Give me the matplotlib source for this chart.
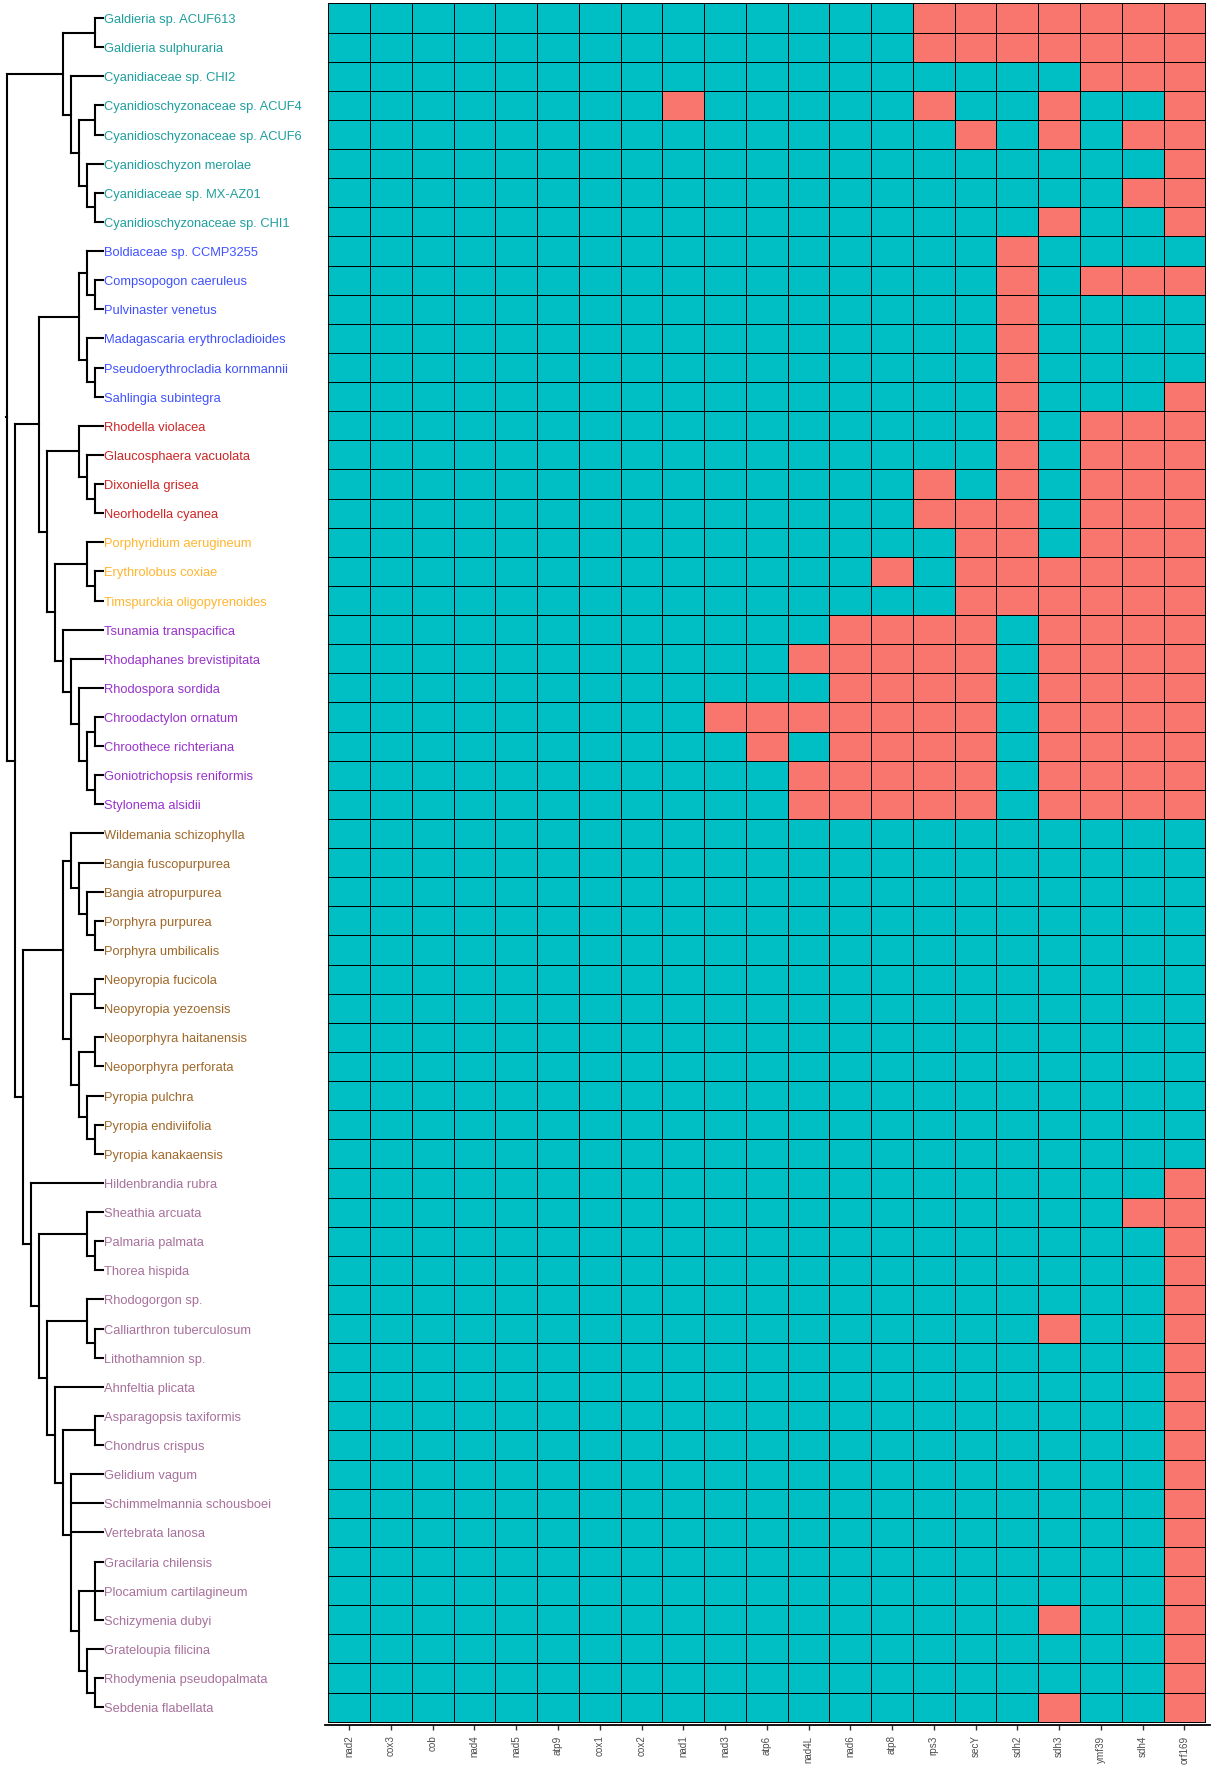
# mitochondrial gene content across red algae
# cladogram on the left, presence/absence grid on the right

import matplotlib
matplotlib.use('Agg')
import matplotlib.pyplot as plt
from matplotlib.colors import ListedColormap
import numpy as np

plt.rcParams['font.family'] = ['Liberation Sans', 'DejaVu Sans']


species = [
    'Galdieria sp. ACUF613', 'Galdieria sulphuraria', 'Cyanidiaceae sp. CHI2',
    'Cyanidioschyzonaceae sp. ACUF4', 'Cyanidioschyzonaceae sp. ACUF6',
    'Cyanidioschyzon merolae', 'Cyanidiaceae sp. MX-AZ01', 'Cyanidioschyzonaceae sp. CHI1',
    'Boldiaceae sp. CCMP3255', 'Compsopogon caeruleus', 'Pulvinaster venetus',
    'Madagascaria erythrocladioides', 'Pseudoerythrocladia kornmannii', 'Sahlingia subintegra',
    'Rhodella violacea', 'Glaucosphaera vacuolata', 'Dixoniella grisea', 'Neorhodella cyanea',
    'Porphyridium aerugineum', 'Erythrolobus coxiae', 'Timspurckia oligopyrenoides',
    'Tsunamia transpacifica', 'Rhodaphanes brevistipitata', 'Rhodospora sordida',
    'Chroodactylon ornatum', 'Chroothece richteriana', 'Goniotrichopsis reniformis',
    'Stylonema alsidii',
    'Wildemania schizophylla', 'Bangia fuscopurpurea', 'Bangia atropurpurea',
    'Porphyra purpurea', 'Porphyra umbilicalis', 'Neopyropia fucicola', 'Neopyropia yezoensis',
    'Neoporphyra haitanensis', 'Neoporphyra perforata', 'Pyropia pulchra',
    'Pyropia endiviifolia', 'Pyropia kanakaensis',
    'Hildenbrandia rubra', 'Sheathia arcuata', 'Palmaria palmata', 'Thorea hispida',
    'Rhodogorgon sp.', 'Calliarthron tuberculosum', 'Lithothamnion sp.', 'Ahnfeltia plicata',
    'Asparagopsis taxiformis', 'Chondrus crispus', 'Gelidium vagum',
    'Schimmelmannia schousboei', 'Vertebrata lanosa', 'Gracilaria chilensis',
    'Plocamium cartilagineum', 'Schizymenia dubyi', 'Grateloupia filicina',
    'Rhodymenia pseudopalmata', 'Sebdenia flabellata',
]

# class of each block of species (in order) and block sizes
classes = ['Cyanidiophyceae', 'Compsopogonophyceae', 'Rhodellophyceae', 'Porphyridiophyceae',
           'Stylonematophyceae', 'Bangiophyceae', 'Florideophyceae']
class_sizes = [8, 6, 4, 3, 7, 12, 19]
class_colors = {
    'Cyanidiophyceae': '#1f9e9e',
    'Compsopogonophyceae': '#3f51ff',
    'Rhodellophyceae': '#cd2626',
    'Porphyridiophyceae': '#ffb52e',
    'Stylonematophyceae': '#9932cc',
    'Bangiophyceae': '#a0682a',
    'Florideophyceae': '#a8709c',
}

genes = ['nad2', 'cox3', 'cob', 'nad4', 'nad5', 'atp9', 'cox1', 'cox2', 'nad1', 'nad3',
         'atp6', 'nad4L', 'nad6', 'atp8', 'rps3', 'secY', 'sdh2', 'sdh3', 'ymf39', 'sdh4',
         'orf169']

# 1 = gene present, 0 = absent; one string per species, columns in gene order
presence = [
    '111111111111110000000',
    '111111111111110000000',
    '111111111111111111000',
    '111111110111110110110',
    '111111111111111010100',
    '111111111111111111110',
    '111111111111111111100',
    '111111111111111110110',
    '111111111111111101111',
    '111111111111111101000',
    '111111111111111101111',
    '111111111111111101111',
    '111111111111111101111',
    '111111111111111101110',
    '111111111111111101000',
    '111111111111111101000',
    '111111111111110101000',
    '111111111111110001000',
    '111111111111111001000',
    '111111111111101000000',
    '111111111111111000000',
    '111111111111000010000',
    '111111111110000010000',
    '111111111111000010000',
    '111111111000000010000',
    '111111111101000010000',
    '111111111110000010000',
    '111111111110000010000',
    '111111111111111111111',
    '111111111111111111111',
    '111111111111111111111',
    '111111111111111111111',
    '111111111111111111111',
    '111111111111111111111',
    '111111111111111111111',
    '111111111111111111111',
    '111111111111111111111',
    '111111111111111111111',
    '111111111111111111111',
    '111111111111111111111',
    '111111111111111111110',
    '111111111111111111100',
    '111111111111111111110',
    '111111111111111111110',
    '111111111111111111110',
    '111111111111111110110',
    '111111111111111111110',
    '111111111111111111110',
    '111111111111111111110',
    '111111111111111111110',
    '111111111111111111110',
    '111111111111111111110',
    '111111111111111111110',
    '111111111111111111110',
    '111111111111111111110',
    '111111111111111110110',
    '111111111111111111110',
    '111111111111111111110',
    '111111111111111110110',
]

tree_newick = (
    '((((Galdieria_sp._ACUF613,Galdieria_sulphuraria),(Cyanidiaceae_sp._CHI2,'
    '((Cyanidioschyzonaceae_sp._ACUF4,Cyanidioschyzonaceae_sp._ACUF6),'
    '(Cyanidioschyzon_merolae,(Cyanidiaceae_sp._MX-AZ01,Cyanidioschyzonaceae_sp._CHI1))))),'
    '((((Boldiaceae_sp._CCMP3255,(Compsopogon_caeruleus,Pulvinaster_venetus)),'
    '(Madagascaria_erythrocladioides,(Pseudoerythrocladia_kornmannii,Sahlingia_subintegra))),'
    '((Rhodella_violacea,(Glaucosphaera_vacuolata,(Dixoniella_grisea,Neorhodella_cyanea))),'
    '((Porphyridium_aerugineum,(Erythrolobus_coxiae,Timspurckia_oligopyrenoides)),'
    '(Tsunamia_transpacifica,(Rhodaphanes_brevistipitata,(Rhodospora_sordida,'
    '((Chroodactylon_ornatum,Chroothece_richteriana),(Goniotrichopsis_reniformis,Stylonema_alsidii)))))))),'
    '(((Wildemania_schizophylla,(Bangia_fuscopurpurea,(Bangia_atropurpurea,'
    '(Porphyra_purpurea,Porphyra_umbilicalis)))),((Neopyropia_fucicola,Neopyropia_yezoensis),'
    '((Neoporphyra_haitanensis,Neoporphyra_perforata),(Pyropia_pulchra,'
    '(Pyropia_endiviifolia,Pyropia_kanakaensis))))),'
    '(Hildenbrandia_rubra,((Sheathia_arcuata,(Palmaria_palmata,Thorea_hispida)),'
    '((Rhodogorgon_sp.,(Calliarthron_tuberculosum,Lithothamnion_sp.)),'
    '(Ahnfeltia_plicata,((Asparagopsis_taxiformis,Chondrus_crispus),'
    '(Gelidium_vagum,Schimmelmannia_schousboei,Vertebrata_lanosa,'
    '((Gracilaria_chilensis,Plocamium_cartilagineum,Schizymenia_dubyi),'
    '(Grateloupia_filicina,(Rhodymenia_pseudopalmata,Sebdenia_flabellata)))))))))))));'
)


def parse_newick(s):
    pos = 0

    def node():
        nonlocal pos
        if s[pos] == '(':
            pos += 1
            kids = [node()]
            while s[pos] == ',':
                pos += 1
                kids.append(node())
            pos += 1
            return kids
        start = pos
        while s[pos] not in ',);':
            pos += 1
        return s[start:pos].replace('_', ' ')

    return node()


def height(n):
    if isinstance(n, str):
        return 0
    return 1 + max(height(k) for k in n)


tree = parse_newick(tree_newick)
# the outer pair of parentheses is just the root wrapper
if len(tree) == 1:
    tree = tree[0]
H = height(tree)

segments = []


def layout(n):
    # cladogram: tips all at H, each node one step left of its deepest child
    if isinstance(n, str):
        return H, species.index(n) + 0.5
    pts = [layout(k) for k in n]
    x = H - height(n)
    ys = [p[1] for p in pts]
    y = np.mean(ys)
    segments.append(((x, x), (min(ys), max(ys))))
    for kx, ky in pts:
        segments.append(((x, kx), (ky, ky)))
    return x, y


root_x, root_y = layout(tree)

label_colors = []
for c, n in zip(classes, class_sizes):
    label_colors += [class_colors[c]] * n

mat = np.array([[int(ch) for ch in row] for row in presence])

W, Hpx = 1217, 1767
fig = plt.figure(figsize=(W / 100, Hpx / 100), dpi=100)

top_px = 3.5
axis_px = 1725
nrow = len(species)
row_h = (1721.7 - top_px) / nrow
ybot = nrow + (axis_px - 1721.7) / row_h

# tree panel, x in cladogram steps (8 px each)
ax_t = fig.add_axes([0, 1 - axis_px / Hpx, 328 / W, (axis_px - top_px) / Hpx])
step = 8.0
x0 = 7.3
ax_t.set_xlim((0 - x0) / step, (328 - x0) / step)
ax_t.set_ylim(ybot, 0)
ax_t.axis('off')

for xs, ys in segments:
    ax_t.plot(xs, ys, color='black', lw=1.5, solid_capstyle='projecting')
ax_t.plot([root_x - 0.15, root_x], [root_y, root_y], color='black', lw=1.5)

for i, name in enumerate(species):
    ax_t.text(H + 0.08, i + 0.57, name, color=label_colors[i], fontsize=9.3,
              ha='left', va='center', clip_on=False)

# presence / absence grid
left_px, right_px = 325, 1210
ax_h = fig.add_axes([left_px / W, 1 - axis_px / Hpx, (right_px - left_px) / W,
                     (axis_px - top_px) / Hpx])
cmap = ListedColormap(['#F8766D', '#00BFC4'])
ax_h.pcolormesh(np.arange(len(genes) + 1), np.arange(nrow + 1), mat, cmap=cmap,
                vmin=0, vmax=1, edgecolors='black', linewidth=0.7)
col_w = (1205.3 - 328.3) / len(genes)
ax_h.set_xlim(-(328.3 - left_px) / col_w, len(genes) + (right_px - 1205.3) / col_w)
ax_h.set_ylim(ybot, 0)

for s in ['top', 'right', 'left']:
    ax_h.spines[s].set_visible(False)
ax_h.spines['bottom'].set_linewidth(1.3)
ax_h.set_yticks([])
ax_h.set_xticks(np.arange(len(genes)) + 0.5)
ax_h.set_xticklabels(genes, rotation=90, fontsize=7.1, color='#4d4d4d')
ax_h.tick_params(axis='x', length=3.5, width=1.0, color='#333333', pad=4)

fig.savefig('out.png', dpi=100)
